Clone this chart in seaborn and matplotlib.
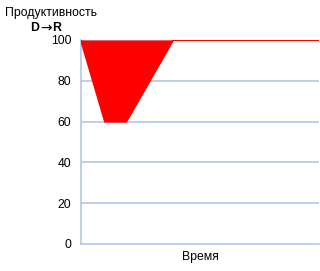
import matplotlib
matplotlib.use("Agg")
import matplotlib.pyplot as plt
import seaborn as sns
import pandas as pd

time_pos = [0, 10.1, 19.0, 38.7, 100]
productivity = [100, 60, 60, 100, 100]
y_ticks = [0, 20, 40, 60, 80, 100]

sns.set_theme(style="white")
plt.rcParams['font.family'] = ['Liberation Sans', 'DejaVu Sans']
plt.rcParams['text.color'] = 'black'
plt.rcParams['axes.labelcolor'] = 'black'
plt.rcParams['ytick.color'] = 'black'

df = pd.DataFrame({"t": time_pos, "p": productivity})

fig = plt.figure(figsize=(3.2, 2.71), dpi=100)
ax = fig.add_axes([81/320, 1-244/271, 238/320, 204/271])

grid_c = "#b4c7e7"
for v in y_ticks[1:]:
    ax.axhline(v, color=grid_c, lw=1.2, zorder=0)

ax.fill_between(df["t"], df["p"], 100, color="#ff0000", lw=0, zorder=2)
sns.lineplot(data=df, x="t", y="p", color="#ff0000", lw=1.5, ax=ax, zorder=3)

ax.set_xlim(0, 100)
ax.set_ylim(0, 100)
ax.set_yticks(y_ticks)
ax.set_yticklabels([str(v) for v in y_ticks], fontsize=8.8, color="#000000")
ax.set_xticks([])
ax.tick_params(axis='y', length=0, pad=7)
for s in ["top", "right"]:
    ax.spines[s].set_visible(False)
for s in ["left", "bottom"]:
    ax.spines[s].set_color(grid_c)
    ax.spines[s].set_linewidth(1.2)
ax.set_xlabel("Время", fontsize=8.8, labelpad=5, color="black")
ax.set_ylabel("")
fig.text(5/320, 1-13/271, "Продуктивность", fontsize=8.8, va="center", ha="left")
fig.text(30/320, 1-28/271, "D", fontsize=8.8, va="center", ha="left", fontweight="bold")
fig.text(46/320, 1-28/271, "→", fontsize=10, va="center", ha="center", family="DejaVu Sans")
fig.text(61/320, 1-28/271, "R", fontsize=8.8, va="center", ha="right", fontweight="bold")

fig.savefig("out.png", dpi=100)
